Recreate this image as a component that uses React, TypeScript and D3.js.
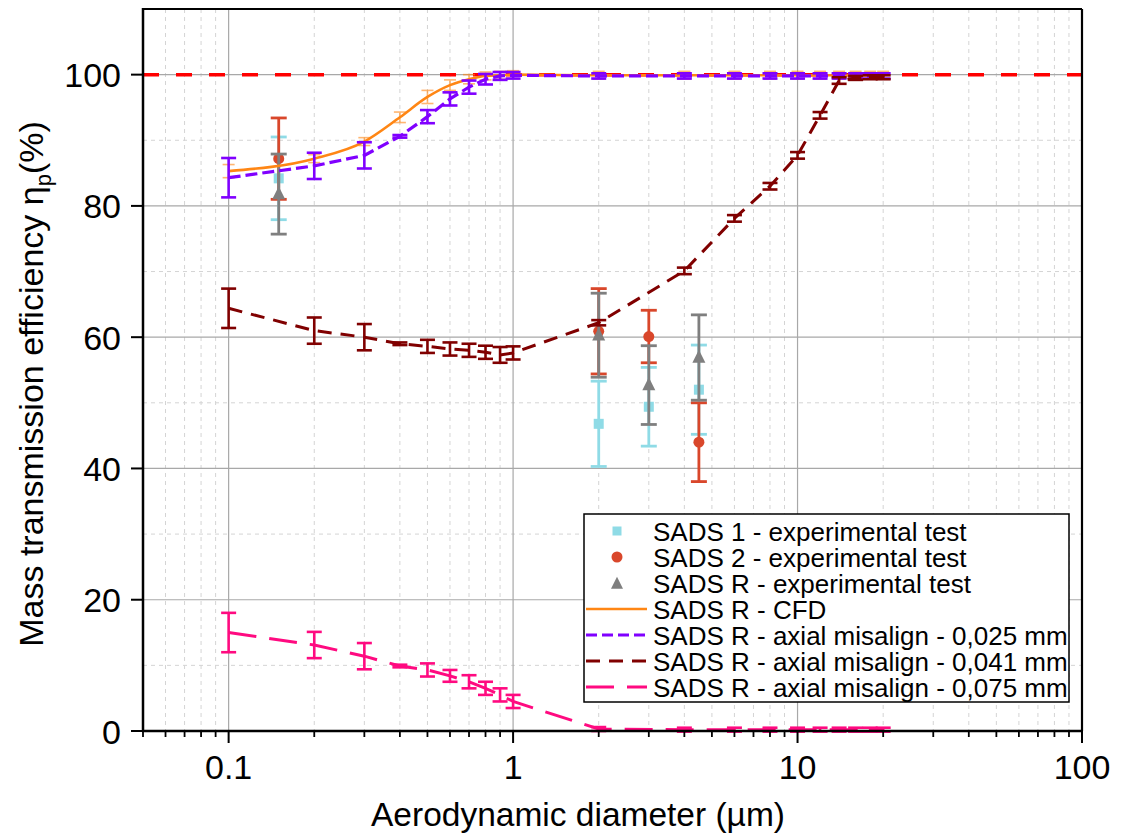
import React from 'react';
import * as d3 from 'd3';

// ---------- DATA ----------
const CURVE_X = [0.1, 0.2, 0.3, 0.4, 0.5, 0.6, 0.7, 0.8, 0.9, 1, 2, 4, 6, 8, 10, 12, 14, 16, 18, 20];

const CFD = [85.3, 87.2, 89.8, 93.5, 96.6, 98.4, 99.3, 99.8, 99.9, 100, 99.9, 99.9, 99.9, 99.9, 99.9, 99.9, 99.9, 99.9, 99.9, 99.9];
const CFD_ERR = [1.0, 0.6, 0.6, 0.8, 1.0, 0.8, 0.7, 0.6, 0.6, 0.6, 0.6, 0.6, 0.6, 0.6, 0.6, 0.6, 0.6, 0.6, 0.6, 0.6];

const MIS_025 = [84.3, 86.1, 87.7, 90.6, 93.6, 96.3, 98.1, 99.3, 99.8, 99.9, 99.8, 99.8, 99.8, 99.8, 99.8, 99.8, 99.8, 99.8, 99.8, 99.8];
const MIS_025_ERR = [3.0, 2.0, 2.0, 0.2, 1.0, 1.0, 1.0, 0.8, 0.6, 0.5, 0.4, 0.4, 0.4, 0.4, 0.4, 0.4, 0.4, 0.4, 0.4, 0.4];

const MIS_041 = [64.4, 61.0, 60.0, 59.0, 58.6, 58.2, 58.0, 57.7, 57.3, 57.6, 62.2, 70.1, 78.1, 83.0, 87.7, 93.8, 99.1, 99.5, 99.6, 99.6];
const MIS_041_ERR = [3.0, 2.0, 2.0, 0.2, 1.0, 1.0, 1.0, 1.0, 1.2, 1.0, 0.4, 0.5, 0.5, 0.5, 0.5, 0.5, 0.5, 0.3, 0.3, 0.3];

const MIS_075 = [15.0, 13.1, 11.4, 9.9, 9.3, 8.4, 7.5, 6.5, 5.5, 4.5, 0.3, 0.2, 0.2, 0.2, 0.2, 0.2, 0.2, 0.2, 0.2, 0.2];
const MIS_075_ERR = [3.0, 2.0, 2.0, 0.2, 1.0, 0.9, 1.0, 1.0, 1.0, 1.0, 0.3, 0.3, 0.3, 0.3, 0.3, 0.3, 0.3, 0.3, 0.3, 0.3];

const EXP_X = [0.15, 2, 3, 4.5];
const SADS1 = [84.2, 46.8, 49.4, 52.0];
const SADS1_ERR = [6.3, 6.5, 6.0, 6.8];
const SADS2 = [87.2, 60.9, 60.1, 44.0];
const SADS2_ERR = [6.2, 6.5, 4.0, 6.0];
const SADSR = [81.8, 60.3, 52.7, 56.9];
const SADSR_ERR = [6.1, 6.4, 6.0, 6.5];

const X_TICKS = [0.1, 1, 10, 100];
const X_TICK_LABELS = ['0.1', '1', '10', '100'];
const Y_TICKS = [0, 20, 40, 60, 80, 100];
const Y_MINOR = [10, 30, 50, 70, 90];
const REFERENCE_LEVEL = 100;

const LEGEND_LABELS = [
  'SADS 1 - experimental test',
  'SADS 2 - experimental test',
  'SADS R - experimental test',
  'SADS R - CFD',
  'SADS R - axial misalign - 0,025 mm',
  'SADS R - axial misalign - 0,041 mm',
  'SADS R - axial misalign - 0,075 mm',
];

// ---------- LAYOUT ----------
const W = 1122;
const H = 834;
const L = 143, R = 1082, T = 9, B = 731;
const FONT = '"Liberation Sans", Arial, sans-serif';

const C_CYAN = '#8fdbe6';
const C_RED = '#d9472b';
const C_GRAY = '#7f7f7f';
const C_ORANGE = '#ff8614';
const C_PURPLE = '#8000ff';
const C_MAROON = '#800000';
const C_PINK = '#ff0a80';

export default function App() {
  const x = d3.scaleLog().domain([0.05, 100]).range([L, R]);
  const y = d3.scaleLinear().domain([0, 110]).range([B, T]);

  const xMinor: number[] = [];
  for (let e = -2; e <= 1; e++) {
    for (let k = 2; k <= 9; k++) {
      const v = k * Math.pow(10, e);
      if (v >= 0.05 && v < 100) xMinor.push(v);
    }
  }

  const line = d3
    .line<number>()
    .x((_, i) => x(CURVE_X[i]))
    .y((d) => y(d));
  const smooth = d3
    .line<number>()
    .x((_, i) => x(CURVE_X[i]))
    .y((d) => y(d))
    .curve(d3.curveMonotoneX);

  const errBars = (
    xs: number[],
    vals: number[],
    errs: number[],
    color: string,
    sw: number,
    cap: number,
    key: string,
    opacity = 1
  ) =>
    vals.map((v, i) => {
      const cx = x(xs[i]);
      const y1 = y(v + errs[i]);
      const y2 = y(v - errs[i]);
      return (
        <g key={key + i} stroke={color} strokeWidth={sw} opacity={opacity}>
          <line x1={cx} x2={cx} y1={y1} y2={y2} />
          <line x1={cx - cap} x2={cx + cap} y1={y1} y2={y1} />
          <line x1={cx - cap} x2={cx + cap} y1={y2} y2={y2} />
        </g>
      );
    });

  const square = (cx: number, cy: number, s: number, color: string, k: string) => (
    <rect key={k} x={cx - s / 2} y={cy - s / 2} width={s} height={s} fill={color} />
  );
  const circle = (cx: number, cy: number, r: number, color: string, k: string) => (
    <circle key={k} cx={cx} cy={cy} r={r} fill={color} />
  );
  const triangle = (cx: number, cy: number, s: number, color: string, k: string) => (
    <path
      key={k}
      d={`M${cx},${cy - s * 0.6}L${cx + s / 2},${cy + s * 0.4}L${cx - s / 2},${cy + s * 0.4}Z`}
      fill={color}
    />
  );

  const legX0 = 584, legY0 = 514, legX1 = 1069, legY1 = 702;
  const rowY = (i: number) => 531 + i * 26;
  const symX0 = 586, symX1 = 647, symMid = 617, textX = 653;

  return (
    <svg
      width={W}
      height={H}
      style={{ position: 'absolute', left: 0, top: 0, background: '#fff' }}
      fontFamily={FONT}
    >
      <rect x={0} y={0} width={W} height={H} fill="#fff" />

      {/* minor grid */}
      {xMinor.map((v) => (
        <line key={'xm' + v} x1={x(v)} x2={x(v)} y1={T} y2={B} stroke="#d4d4d4" strokeWidth={1} strokeDasharray="4 4" />
      ))}
      {Y_MINOR.map((v) => (
        <line key={'ym' + v} x1={L} x2={R} y1={y(v)} y2={y(v)} stroke="#d4d4d4" strokeWidth={1} strokeDasharray="4 4" />
      ))}
      {/* major grid */}
      {X_TICKS.filter((v) => v < 100).map((v) => (
        <line key={'xg' + v} x1={x(v)} x2={x(v)} y1={T} y2={B} stroke="#a8a8a8" strokeWidth={1.2} />
      ))}
      {Y_TICKS.filter((v) => v > 0).map((v) => (
        <line key={'yg' + v} x1={L} x2={R} y1={y(v)} y2={y(v)} stroke="#a8a8a8" strokeWidth={1.2} />
      ))}

      {/* reference line */}
      <line
        x1={L}
        x2={R}
        y1={y(REFERENCE_LEVEL)}
        y2={y(REFERENCE_LEVEL)}
        stroke="#ff0000"
        strokeWidth={3.5}
        strokeDasharray="16 17"
      />

      {/* experimental */}
      {errBars(EXP_X, SADS1, SADS1_ERR, C_CYAN, 2.8, 8, 'e1')}
      {SADS1.map((v, i) => square(x(EXP_X[i]), y(v), 10, C_CYAN, 's1' + i))}
      {errBars(EXP_X, SADS2, SADS2_ERR, C_RED, 2.8, 8, 'e2')}
      {SADS2.map((v, i) => circle(x(EXP_X[i]), y(v), 5.5, C_RED, 's2' + i))}
      {errBars(EXP_X, SADSR, SADSR_ERR, C_GRAY, 2.8, 8, 'e3')}
      {SADSR.map((v, i) => triangle(x(EXP_X[i]), y(v), 13, C_GRAY, 's3' + i))}

      {/* CFD */}
      <path d={smooth(CFD) || ''} fill="none" stroke={C_ORANGE} strokeWidth={2.6} />
      {errBars(CURVE_X, CFD, CFD_ERR, C_ORANGE, 1.6, 6, 'ec', 0.6)}

      {/* 0.025 */}
      <path d={line(MIS_025) || ''} fill="none" stroke={C_PURPLE} strokeWidth={3.2} strokeDasharray="12 5" />
      {errBars(CURVE_X, MIS_025, MIS_025_ERR, C_PURPLE, 2.6, 7.5, 'ep')}

      {/* 0.041 */}
      <path d={line(MIS_041) || ''} fill="none" stroke={C_MAROON} strokeWidth={3} strokeDasharray="14 9" />
      {errBars(CURVE_X, MIS_041, MIS_041_ERR, C_MAROON, 2.6, 7.5, 'em')}

      {/* 0.075 */}
      <path d={line(MIS_075) || ''} fill="none" stroke={C_PINK} strokeWidth={3} strokeDasharray="28 13" />
      {errBars(CURVE_X, MIS_075, MIS_075_ERR, C_PINK, 2.6, 7.5, 'ek')}

      {/* frame */}
      <line x1={L} x2={R} y1={T} y2={T} stroke="#000" strokeWidth={2.2} />
      <line x1={R} x2={R} y1={T} y2={B} stroke="#000" strokeWidth={2.2} />
      <line x1={L} x2={L} y1={T - 1} y2={B + 1} stroke="#000" strokeWidth={2.5} />
      <line x1={L - 1} x2={R + 1} y1={B} y2={B} stroke="#000" strokeWidth={2.5} />

      {/* x ticks */}
      {X_TICKS.map((v) => (
        <line key={'xt' + v} x1={x(v)} x2={x(v)} y1={B} y2={B + 12} stroke="#000" strokeWidth={2} />
      ))}
      {xMinor.map((v) => (
        <line key={'xmt' + v} x1={x(v)} x2={x(v)} y1={B} y2={B + 6} stroke="#000" strokeWidth={1.8} />
      ))}
      {X_TICKS.map((v, i) => (
        <text key={'xl' + v} x={x(v)} y={779} fontSize={34} textAnchor="middle" fill="#000">
          {X_TICK_LABELS[i]}
        </text>
      ))}

      {/* y ticks */}
      {Y_TICKS.map((v) => (
        <line key={'yt' + v} x1={L - 12} x2={L} y1={y(v)} y2={y(v)} stroke="#000" strokeWidth={2} />
      ))}
      {Y_TICKS.map((v) => (
        <text key={'yl' + v} x={121} y={y(v) + 12.5} fontSize={34} textAnchor="end" fill="#000">
          {String(v)}
        </text>
      ))}

      {/* axis titles */}
      <text x={578} y={826} fontSize={33.5} textAnchor="middle" fill="#000">
        Aerodynamic diameter (µm)
      </text>
      <text
        transform={`translate(43, 384) rotate(-90)`}
        fontSize={34}
        textAnchor="middle"
        fill="#000"
      >
        Mass transmission efficiency η
        <tspan fontSize={22} dy={8}>p</tspan>
        <tspan dy={-8}>(%)</tspan>
      </text>

      {/* legend */}
      <rect x={legX0} y={legY0} width={legX1 - legX0} height={legY1 - legY0} fill="#fff" stroke="#000" strokeWidth={1.5} />
      {square(symMid, rowY(0), 9, C_CYAN, 'lg0')}
      {circle(symMid, rowY(1), 5.5, C_RED, 'lg1')}
      {triangle(symMid, rowY(2) + 1, 12, C_GRAY, 'lg2')}
      <line x1={symX0} x2={symX1} y1={rowY(3)} y2={rowY(3)} stroke={C_ORANGE} strokeWidth={2.6} />
      <line x1={symX0} x2={symX1} y1={rowY(4)} y2={rowY(4)} stroke={C_PURPLE} strokeWidth={3.2} strokeDasharray="11 5" />
      <line x1={symX0} x2={symX1} y1={rowY(5)} y2={rowY(5)} stroke={C_MAROON} strokeWidth={3} strokeDasharray="14 9" />
      <line x1={symX0} x2={symX1} y1={rowY(6)} y2={rowY(6)} stroke={C_PINK} strokeWidth={3} strokeDasharray="28 13" />
      {LEGEND_LABELS.map((t, i) => (
        <text key={'lt' + i} x={textX} y={rowY(i) + 9.5} fontSize={26} fill="#000">
          {t}
        </text>
      ))}
    </svg>
  );
}
